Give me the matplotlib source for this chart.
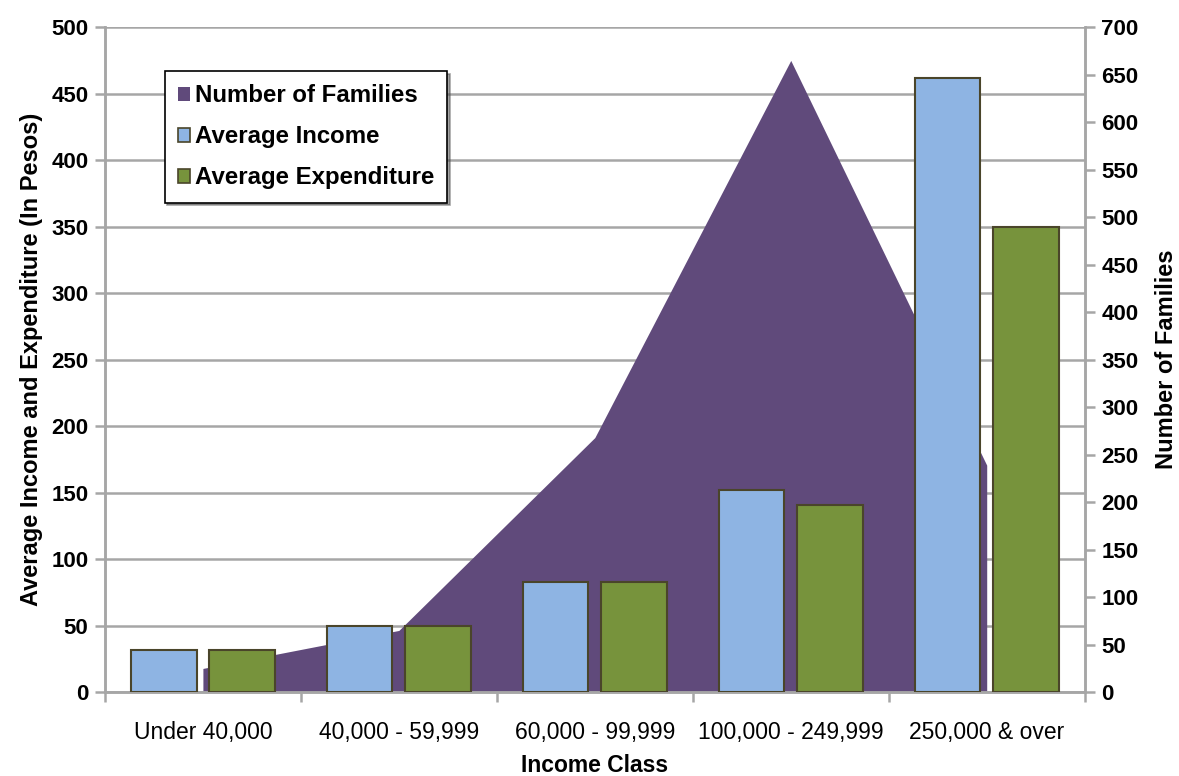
import matplotlib.pyplot as plt
import numpy as np

classes = ["Under 40,000", "40,000 - 59,999", "60,000 - 99,999", "100,000 - 249,999", "250,000 & over"]
avg_income = [32, 50, 83, 152, 462]
avg_expenditure = [32, 50, 83, 141, 350]
num_families = [25, 65, 268, 665, 239]

purple = "#604A7B"
blue = "#8EB4E3"
green = "#77933C"
edge = "#4A452A"
grey = "#A6A6A6"

plt.rcParams['font.family'] = ['Liberation Sans', 'DejaVu Sans']

fig = plt.figure(figsize=(11.79, 7.76), dpi=100)
ax = fig.add_axes([0.089, 0.108, 0.831, 0.857])
ax2 = ax.twinx()

x = np.arange(len(classes))

# area on the right axis, drawn underneath the bars
ax.set_zorder(1)
ax.patch.set_visible(False)
ax2.fill_between(x, 0, num_families, color=purple, lw=0, zorder=2)
ax2.set_ylim(0, 700)
ax2.set_yticks(np.arange(0, 701, 50))

for v in range(0, 501, 50):
    ax2.axhline(v * 700 / 500, color=grey, lw=1.8, zorder=1)

w = 0.335
ax.bar(x - 0.2, avg_income, w, color=blue, edgecolor=edge, lw=1.5, zorder=3)
ax.bar(x + 0.2, avg_expenditure, w, color=green, edgecolor=edge, lw=1.5, zorder=3)
ax.set_ylim(0, 500)
ax.set_xlim(-0.5, 4.5)
ax.set_yticks(np.arange(0, 501, 50))

ax.set_xticks(x)
ax.set_xticklabels(classes, fontsize=16.5)
ax.set_xticks(np.arange(-0.5, 5, 1), minor=True)
ax.tick_params(axis='x', which='major', length=0, pad=21)
ax.tick_params(axis='x', which='minor', length=7, width=1.8, color=grey)
ax.tick_params(axis='y', length=7, width=1.8, color=grey, labelsize=16, pad=5)
ax2.tick_params(axis='y', length=7, width=1.8, color=grey, labelsize=16, pad=5)
for lab in ax.get_yticklabels() + ax2.get_yticklabels():
    lab.set_fontweight('bold')

for a in (ax, ax2):
    a.spines['top'].set_visible(False)
    for s in ('left', 'right', 'bottom'):
        a.spines[s].set_color(grey)
        a.spines[s].set_linewidth(1.8)

ax.set_xlabel("Income Class", fontsize=16.5, fontweight='bold', labelpad=7)
ax.set_ylabel("Average Income and Expenditure (In Pesos)", fontsize=17, fontweight='bold', labelpad=6)
ax2.set_ylabel("Number of Families", fontsize=17, fontweight='bold', labelpad=12)

handles = [plt.Rectangle((0, 0), 1, 1, fc=purple, ec='none'),
           plt.Rectangle((0, 0), 1, 1, fc=blue, ec=edge, lw=1.2),
           plt.Rectangle((0, 0), 1, 1, fc=green, ec=edge, lw=1.2)]
leg = ax.legend(handles, ["Number of Families", "Average Income", "Average Expenditure"],
                loc='upper left', bbox_to_anchor=(0.061, 0.934), fancybox=False, shadow=True,
                framealpha=1, edgecolor='black', prop={'weight': 'bold', 'size': 17.3},
                handlelength=0.5, handleheight=0.5, handletextpad=0.2, labelspacing=0.75,
                borderpad=0.55, borderaxespad=0)
leg.get_frame().set_linewidth(1.2)
leg.set_zorder(5)

fig.savefig("out.png", dpi=100)
